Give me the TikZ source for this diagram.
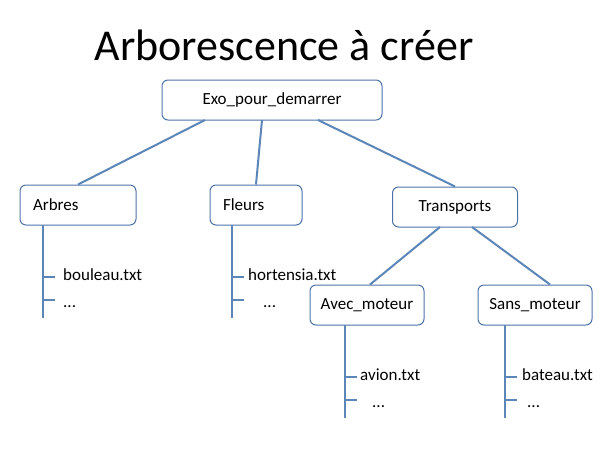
\documentclass[tikz,border=0pt]{standalone}
\usepackage{fontspec}
\setmainfont{Carlito}
\usetikzlibrary{positioning}
\definecolor{boxline}{rgb}{0.30,0.45,0.66}
\definecolor{treeline}{rgb}{0.36,0.52,0.72}
\tikzstyle{folder}=[draw=boxline,rounded corners=6pt,line width=1pt,fill=white,
                minimum height=40pt,font=\fontsize{17}{20}\selectfont]
\tikzstyle{branch}=[draw=treeline,line width=2pt]
\tikzstyle{file}=[anchor=west,inner sep=0pt,font=\fontsize{17}{20}\selectfont]

\begin{document}
\begin{tikzpicture}[x=1pt,y=-1pt]

\useasboundingbox (0,0) rectangle (613,448);

% titre
\node (titre) at (284,45) {\fontsize{44}{52}\selectfont Arborescence à créer};

% dossiers
\node[folder,minimum width=220pt] (exo) at (272,100) {Exo\_pour\_demarrer};
\node[folder,minimum width=116pt,text width=90pt] (arbres) at (78,205) {Arbres};
\node[folder,minimum width=92pt,text width=66pt] (fleurs) at (256,205) {Fleurs};
\node[folder,minimum width=125pt] (transports) at (455,207) {Transports};
\node[folder,minimum width=114pt] (avec) at (367,305) {Avec\_moteur};
\node[folder,minimum width=114pt] (sans) at (535,305) {Sans\_moteur};

% liens
\coordinate (e1) at (205,120);
\coordinate (e2) at (262,120);
\coordinate (e3) at (318,120);
\coordinate (t1) at (440,227);
\coordinate (t2) at (472,227);
\draw[branch] (e1) -- (arbres.north);
\draw[branch] (e2) -- (fleurs.north);
\draw[branch] (e3) -- (transports.north);
\draw[branch] (t1) -- ([xshift=3pt]avec.north);
\draw[branch] (t2) -- ([xshift=15pt]sans.north);

% fichiers
\foreach \nom/\x/\y/\f/\px in {arbres/43/225/bouleau.txt/63, fleurs/232/225/hortensia.txt/248,
    avec/345/325/avion.txt/360, sans/505/325/bateau.txt/522} {
  \coordinate (\nom top) at (\x,\y);
  \coordinate (\nom bas) at (\x,\y+93);
  \draw[branch] (\nom top) -- (\nom bas);
  \draw[branch] (\x,\y+52) -- (\x+12,\y+52);
  \draw[branch] (\x,\y+75) -- (\x+12,\y+75);
  \node[file] (\nom f1) at (\px,\y+50) {\f};
}
\node[file] (arbres f2) at (63,307) {...};
\node[file] (fleurs f2) at (263,307) {...};
\node[file] (avec f2) at (372,407) {...};
\node[file] (sans f2) at (527,407) {...};

\end{tikzpicture}
\end{document}
